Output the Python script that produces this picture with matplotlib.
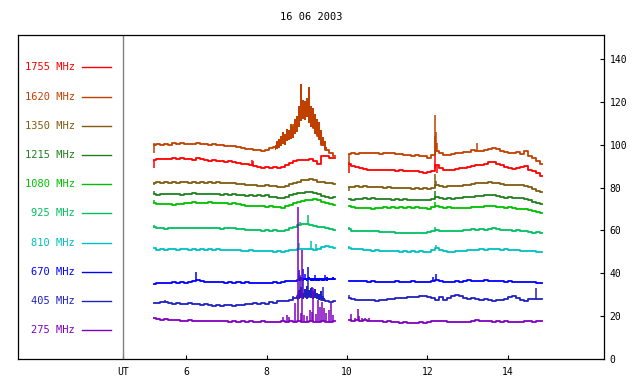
import numpy as np
import matplotlib
matplotlib.use("Agg")
import matplotlib.pyplot as plt

plt.rcParams['font.family'] = ['DejaVu Sans Mono']

# two recording sessions (UT hours), one value every 0.1 h
t_am = np.round(np.arange(5.2, 9.71, 0.1), 2)
t_pm = np.round(np.arange(10.05, 14.86, 0.1), 2)

labels = ['1755 MHz', '1620 MHz', '1350 MHz', '1215 MHz', '1080 MHz',
          '925 MHz', '810 MHz', '670 MHz', '405 MHz', '275 MHz']
colors = ['#ff0000', '#c04000', '#805c10', '#208020', '#00c000',
          '#00c060', '#00c0c0', '#0000ff', '#2020c0', '#8000c0']

# flux values (sfu), morning session
f1755_am = [93.0, 93.4, 93.1, 93.5, 93.2, 93.6, 93.4, 93.9, 93.5, 93.3,
            93.0, 93.6, 93.2, 93.0, 92.6, 92.8, 92.3, 92.5, 92.1, 92.2,
            91.8, 91.5, 91.2, 90.9, 90.5, 90.2, 89.6, 89.1, 89.4, 89.0,
            89.8, 89.3, 89.6, 90.4, 91.3, 92.2, 92.8, 93.0, 92.7, 93.1,
            92.6, 90.8, 94.6, 94.5, 93.8, 94.0]
f1620_am = [99.8, 100.2, 99.7, 100.3, 100.0, 100.6, 100.4, 100.9, 100.3, 100.5,
            100.1, 100.6, 100.2, 100.4, 99.9, 100.1, 99.7, 99.9, 99.6, 99.2,
            99.4, 98.8, 98.6, 98.2, 97.9, 97.5, 97.3, 97.0, 97.6, 98.3,
            99.0, 101.0, 102.5, 104.0, 106.5, 109.0, 113.0, 116.0, 116.0, 113.0,
            108.0, 104.0, 100.0, 97.5, 96.0, 94.8]
f1350_am = [82.2, 82.6, 82.3, 82.5, 82.1, 82.6, 82.3, 82.7, 82.4, 82.2,
            82.6, 82.3, 82.5, 82.2, 82.6, 82.3, 82.4, 82.0, 82.3, 81.9,
            82.2, 81.7, 81.5, 81.2, 81.0, 81.3, 80.9, 80.8, 81.0, 80.7,
            80.9, 80.4, 80.2, 80.8, 81.5, 82.0, 82.6, 83.3, 83.6, 84.0,
            83.4, 82.8, 82.5, 82.0, 81.9, 81.6]
f1215_am = [77.0, 76.6, 77.1, 76.8, 77.2, 76.9, 77.0, 76.7, 77.1, 76.8,
            77.3, 77.0, 77.2, 76.9, 77.1, 76.8, 77.0, 76.6, 76.9, 76.5,
            76.8, 76.4, 76.6, 76.2, 76.5, 76.1, 76.4, 76.0, 76.3, 75.8,
            75.5, 75.2, 74.9, 75.6, 76.3, 76.8, 77.3, 77.6, 77.8, 78.0,
            77.6, 76.8, 76.1, 75.8, 75.3, 75.5]
f1080_am = [73.0, 72.2, 72.5, 72.1, 72.4, 72.0, 72.5, 72.3, 72.8, 72.6,
            73.1, 72.8, 73.0, 72.7, 73.1, 72.8, 73.0, 72.6, 72.9, 72.5,
            72.7, 72.2, 72.0, 71.6, 71.3, 71.6, 71.2, 71.5, 71.1, 71.4,
            71.0, 70.8, 70.6, 71.2, 72.0, 72.7, 73.3, 73.8, 74.1, 74.4,
            74.6, 74.0, 73.2, 72.6, 72.2, 71.8]
f925_am = [61.8, 61.0, 61.2, 60.8, 61.1, 60.9, 61.2, 61.0, 61.1, 60.9,
           61.2, 61.0, 61.1, 60.9, 61.2, 61.0, 61.1, 60.8, 61.1, 60.9,
           61.0, 60.7, 60.8, 60.4, 60.3, 60.0, 60.2, 59.8, 60.0, 59.8,
           60.1, 59.8, 59.9, 60.3, 60.9, 61.6, 62.3, 63.0, 63.1, 62.7,
           62.2, 61.8, 61.5, 61.0, 60.6, 60.2]
f810_am = [51.6, 51.0, 51.2, 51.0, 51.3, 51.1, 51.0, 51.3, 51.1, 51.0,
           51.2, 51.0, 51.1, 50.9, 51.2, 51.0, 51.1, 50.9, 51.0, 50.8,
           51.0, 50.7, 50.5, 50.4, 50.7, 50.5, 50.3, 50.6, 50.2, 50.5,
           50.1, 50.3, 49.9, 50.4, 50.8, 51.0, 51.2, 51.1, 51.4, 51.2,
           51.0, 51.4, 52.2, 52.6, 52.3, 51.8]
f670_am = [35.2, 35.6, 35.4, 35.7, 35.5, 35.8, 35.6, 35.9, 35.7, 35.9,
           36.4, 37.0, 36.2, 36.0, 35.8, 36.1, 35.8, 36.0, 35.7, 35.9,
           35.6, 35.8, 35.5, 35.8, 35.6, 35.3, 35.6, 35.4, 35.7, 35.5,
           35.8, 35.6, 35.9, 36.2, 36.4, 36.6, 37.0, 37.4, 37.2, 37.4,
           37.1, 37.3, 37.0, 37.4, 37.2, 37.4]
f405_am = [26.3, 26.0, 26.4, 26.6, 26.0, 25.9, 26.2, 25.8, 25.7, 26.0,
           25.6, 25.8, 25.4, 25.6, 25.1, 24.9, 25.2, 24.9, 25.0, 25.3,
           24.9, 25.4, 25.2, 25.6, 25.9, 26.0, 25.7, 26.1, 25.8, 26.4,
           26.2, 26.9, 27.1, 27.3, 27.6, 28.3, 29.5, 30.0, 29.0, 30.5,
           30.0, 28.5, 27.5, 27.0, 26.8, 26.9]
f275_am = [19.2, 18.6, 18.4, 18.6, 18.3, 18.0, 18.1, 17.9, 17.9, 18.0,
           17.8, 17.9, 17.7, 17.9, 17.8, 17.6, 17.9, 17.7, 17.9, 17.5,
           17.8, 17.4, 17.6, 17.3, 17.6, 17.4, 17.3, 17.6, 17.4, 17.3,
           17.5, 17.4, 17.6, 17.5, 17.6, 17.4, 17.6, 17.5, 17.4, 17.6,
           17.5, 17.4, 17.6, 17.5, 17.4, 17.6]

# afternoon session
f1755_pm = [90.8, 90.2, 89.4, 88.9, 88.6, 88.4, 88.2, 88.3, 88.0, 88.2,
            88.0, 88.1, 87.9, 88.0, 87.8, 87.9, 87.5, 87.6, 87.2, 87.0,
            87.4, 87.8, 90.5, 88.9, 88.3, 88.0, 88.2, 88.5, 88.9, 89.3,
            89.6, 90.1, 90.4, 90.7, 91.2, 91.7, 92.0, 90.8, 90.3, 89.5,
            88.9, 88.7, 89.1, 89.4, 90.0, 88.4, 87.5, 86.6, 85.2]
f1620_pm = [95.5, 96.0, 95.7, 96.2, 95.9, 96.3, 96.0, 96.2, 95.8, 96.1,
            95.9, 96.0, 95.6, 95.5, 95.2, 95.3, 94.9, 95.1, 94.8, 94.5,
            93.8, 95.0, 97.0, 96.0, 95.4, 95.1, 95.6, 96.0, 96.3, 96.6,
            96.8, 97.3, 97.0, 97.2, 97.6, 97.9, 98.3, 97.8, 97.2, 96.5,
            95.9, 96.1, 96.6, 95.8, 97.0, 94.8, 93.6, 92.4, 90.8]
f1350_pm = [80.4, 80.2, 80.5, 80.3, 80.5, 80.2, 80.4, 80.1, 80.3, 80.0,
            80.2, 79.9, 79.7, 79.9, 79.6, 79.8, 79.5, 79.7, 79.5, 79.6,
            79.4, 80.0, 81.0, 80.6, 80.4, 80.7, 80.5, 80.8, 80.9, 81.2,
            81.4, 81.7, 81.9, 82.0, 82.2, 82.4, 82.3, 82.1, 81.8, 81.4,
            81.2, 81.3, 81.0, 81.2, 80.9, 80.4, 79.2, 78.6, 77.8]
f1215_pm = [74.6, 74.4, 74.8, 74.5, 74.9, 74.6, 74.9, 74.7, 74.8, 74.5,
            74.7, 74.4, 74.6, 74.3, 74.5, 74.2, 74.4, 74.1, 74.3, 74.0,
            74.1, 74.8, 75.8, 75.0, 74.8, 75.0, 74.8, 75.1, 75.0, 75.4,
            75.6, 75.8, 76.0, 76.2, 76.4, 76.6, 76.3, 76.0, 75.6, 75.3,
            75.4, 75.1, 75.3, 74.9, 74.8, 74.0, 73.2, 72.6, 72.2]
f1080_pm = [71.2, 70.8, 70.4, 70.6, 70.3, 70.5, 70.2, 70.6, 70.4, 70.7,
            70.5, 70.8, 70.6, 70.7, 70.5, 70.8, 70.6, 70.9, 70.5, 70.3,
            70.0, 70.8, 71.5, 70.9, 70.6, 70.8, 70.4, 70.5, 70.3, 70.6,
            70.5, 70.8, 70.7, 71.0, 71.3, 71.5, 71.3, 71.0, 70.8, 70.6,
            70.9, 70.5, 70.2, 70.0, 69.8, 69.4, 69.0, 68.7, 68.3]
f925_pm = [60.8, 59.9, 59.7, 59.8, 59.6, 59.7, 59.5, 59.6, 59.4, 59.3,
           59.2, 59.1, 58.9, 59.0, 58.8, 58.9, 58.8, 59.0, 58.7, 59.0,
           59.2, 59.7, 60.3, 59.9, 59.6, 59.8, 59.6, 59.8, 59.9, 60.2,
           60.0, 60.5, 60.3, 60.6, 60.4, 60.8, 60.9, 60.5, 60.3, 60.0,
           60.2, 59.9, 60.0, 59.8, 59.7, 59.2, 59.0, 59.1, 58.9]
f810_pm = [51.8, 51.3, 51.1, 51.2, 50.9, 50.8, 50.6, 50.7, 50.5, 50.6,
           50.4, 50.5, 50.2, 50.1, 50.2, 50.0, 50.2, 50.1, 50.2, 50.0,
           50.1, 50.8, 51.6, 50.9, 50.4, 50.1, 50.0, 50.3, 50.2, 50.6,
           50.8, 51.0, 50.9, 51.2, 51.0, 51.3, 51.1, 51.2, 51.0, 51.1,
           50.9, 50.8, 50.9, 50.6, 50.5, 50.4, 50.3, 50.1, 49.9]
f670_pm = [36.6, 36.3, 36.5, 36.2, 36.4, 36.1, 36.2, 35.9, 36.1, 35.9,
           36.1, 36.0, 36.2, 35.9, 36.1, 36.0, 36.3, 36.1, 36.0, 35.9,
           36.0, 36.4, 36.8, 36.2, 36.0, 36.1, 35.9, 36.3, 36.0, 36.4,
           36.7, 36.2, 36.6, 36.3, 36.8, 36.2, 36.6, 36.3, 36.5, 36.1,
           36.2, 36.0, 36.1, 35.9, 36.0, 35.8, 35.9, 35.6, 35.5]
f405_pm = [28.5, 28.0, 27.7, 27.5, 27.6, 27.5, 27.4, 27.2, 27.4, 27.5,
           28.0, 28.2, 28.5, 28.3, 28.6, 28.9, 29.1, 29.0, 29.3, 29.4,
           29.0, 28.5, 27.5, 28.8, 27.6, 28.6, 29.4, 29.9, 29.2, 28.6,
           28.0, 28.4, 27.8, 27.5, 28.2, 27.6, 27.2, 27.5, 27.6, 28.2,
           28.8, 29.3, 28.6, 27.7, 27.3, 27.8, 27.9, 28.0, 27.9]
f275_pm = [18.2, 17.9, 18.1, 17.8, 18.0, 17.7, 17.9, 17.6, 17.7, 17.5,
           17.6, 17.3, 17.2, 17.0, 17.1, 16.9, 17.0, 16.9, 17.1, 17.0,
           17.3, 17.6, 17.9, 17.7, 17.9, 17.5, 17.3, 17.5, 17.2, 17.5,
           17.4, 17.7, 18.1, 17.8, 17.6, 17.9, 17.5, 17.7, 17.5, 17.6,
           17.4, 17.5, 17.3, 17.5, 17.6, 17.8, 17.5, 17.6, 17.8]

# short spikes: time (h) and peak value
spk1755_t = [5.2, 7.63, 7.66, 10.05, 10.06, 12.2, 12.23]
spk1755_v = [89.0, 92.9, 92.5, 86.6, 92.0, 97.5, 87.0]
spk1620_t = [5.2, 5.2, 10.05, 12.18, 12.2, 12.22, 12.25, 13.25]
spk1620_v = [96.3, 101.0, 91.0, 104.0, 113.9, 106.0, 101.0, 101.0]
spk1350_t = [5.2, 10.05, 12.2, 12.22]
spk1350_v = [81.0, 78.5, 86.3, 83.0]
spk1215_t = [5.2, 12.2]
spk1215_v = [78.2, 78.5]
spk1080_t = [5.2, 12.2]
spk1080_v = [74.2, 73.4]
spk925_t = [5.2, 8.82, 9.02, 10.05, 12.2]
spk925_v = [62.5, 64.0, 67.2, 61.4, 61.7]
spk810_t = [5.2, 8.8, 9.1, 9.24, 10.05, 12.22]
spk810_v = [52.0, 54.0, 55.0, 53.7, 52.7, 53.2]
spk670_t = [6.24, 8.81, 8.9, 8.96, 9.03, 9.2, 9.45, 12.15, 12.22]
spk670_v = [40.6, 41.5, 41.8, 39.5, 42.8, 39.0, 39.0, 38.1, 39.9]
spk405_t = [5.48, 8.66, 8.83, 8.9, 9.02, 9.12, 9.2, 9.4, 10.05, 14.71]
spk405_v = [27.6, 29.5, 39.2, 37.0, 36.9, 33.7, 32.5, 33.7, 29.9, 33.0]
spk275_t = [8.4, 8.5, 8.55, 8.7, 8.78, 8.86, 8.88, 8.93, 9.0, 9.08, 9.13, 9.16,
            9.22, 9.27, 9.32, 9.37, 9.42, 9.48, 9.55, 9.6, 9.65,
            10.1, 10.2, 10.28, 10.3, 10.38, 10.45, 10.55]
spk275_v = [19.7, 20.5, 19.5, 26.0, 71.1, 21.3, 50.9, 20.5, 20.3, 22.9, 22.0, 33.0,
            21.0, 27.5, 24.4, 26.8, 23.6, 21.3, 22.9, 26.0, 20.5,
            20.8, 19.3, 23.2, 20.3, 19.3, 19.0, 19.2]

# burst envelopes (low / high) during the 8.2-9.7 h event
burst1620_t = np.round(np.arange(8.2, 9.51, 0.05), 2)
burst1620_lo = [97.5, 98.0, 98.5, 99.5, 100.5, 100.0, 101.5, 102.0, 102.5, 103.0,
                105.0, 106.0, 108.5, 111.0, 112.0, 111.5, 113.0, 110.0, 108.5, 108.0,
                105.0, 104.5, 102.0, 100.5, 99.5, 98.0, 97.0]
burst1620_hi = [100.0, 101.5, 102.5, 104.0, 106.0, 105.0, 107.5, 107.0, 109.5, 108.5,
                112.0, 113.5, 118.0, 128.5, 121.0, 120.5, 122.0, 127.0, 118.0, 117.0,
                114.5, 112.0, 110.5, 107.0, 103.5, 101.5, 99.0]
burst670_t = np.round(np.arange(8.75, 9.71, 0.05), 2)
burst670_lo = [36.2, 36.5, 36.7, 36.4, 36.7, 36.5, 36.8, 36.5, 36.6, 36.7,
               36.5, 36.6, 36.8, 36.5, 36.7, 36.6, 36.9, 36.7, 36.9, 36.8]
burst670_hi = [37.4, 37.9, 38.2, 37.7, 38.0, 37.6, 38.1, 37.8, 37.6, 38.0,
               37.7, 38.0, 37.8, 37.6, 37.9, 38.1, 37.7, 38.0, 38.1, 37.8]
burst405_t = np.round(np.arange(8.75, 9.46, 0.05), 2)
burst405_lo = [27.5, 28.0, 28.5, 28.0, 28.8, 28.2, 29.0, 28.5, 28.0, 28.5,
               28.0, 27.5, 27.8, 27.2, 27.0]
burst405_hi = [30.5, 32.0, 33.5, 31.0, 32.5, 34.0, 32.2, 33.0, 31.5, 32.8,
               31.0, 30.5, 31.8, 29.5, 28.5]

series_am = [f1755_am, f1620_am, f1350_am, f1215_am, f1080_am,
             f925_am, f810_am, f670_am, f405_am, f275_am]
series_pm = [f1755_pm, f1620_pm, f1350_pm, f1215_pm, f1080_pm,
             f925_pm, f810_pm, f670_pm, f405_pm, f275_pm]
spikes = [(spk1755_t, spk1755_v), (spk1620_t, spk1620_v), (spk1350_t, spk1350_v),
          (spk1215_t, spk1215_v), (spk1080_t, spk1080_v), (spk925_t, spk925_v),
          (spk810_t, spk810_v), (spk670_t, spk670_v), (spk405_t, spk405_v),
          (spk275_t, spk275_v)]
bursts = {1: (burst1620_t, burst1620_lo, burst1620_hi),
          7: (burst670_t, burst670_lo, burst670_hi),
          8: (burst405_t, burst405_lo, burst405_hi)}

fig = plt.figure(figsize=(6.4, 3.84), dpi=100)
ax = fig.add_axes([18/640, 25/384, 586/640, 324/384])

for i, col in enumerate(colors):
    am = np.array(series_am[i])
    pm = np.array(series_pm[i])
    ax.plot(t_am, am, color=col, lw=1.3, drawstyle='steps-mid')
    ax.plot(t_pm, pm, color=col, lw=1.3, drawstyle='steps-mid')
    if i in bursts:
        bt, lo, hi = bursts[i]
        ax.fill_between(bt, lo, hi, color=col, lw=0, step='mid')
    st = np.array(spikes[i][0])
    sv = np.array(spikes[i][1])
    base = np.where(st < 9.9, np.interp(st, t_am, am), np.interp(st, t_pm, pm))
    ax.vlines(st, base, sv, color=col, lw=1.1)

# legend column on the left
for i, (lab, col) in enumerate(zip(labels, colors)):
    yf = 0.900 - 0.0901 * i
    ax.text(0.0973, yf, lab, color=col, transform=ax.transAxes,
            ha='right', va='center', fontsize=7.5)
    ax.plot([0.1092, 0.1587], [yf, yf], color=col, lw=1, transform=ax.transAxes)

ax.axvline(4.43, color='#808080', lw=1)

ax.set_xlim(1.81, 16.40)
ax.set_ylim(0, 151.2)
ax.set_xticks([4.43, 6, 8, 10, 12, 14])
ax.set_xticklabels(['UT', '6', '8', '10', '12', '14'])
ax.set_yticks(range(0, 141, 20))
ax.yaxis.tick_right()
ax.tick_params(axis='x', direction='in', length=3, pad=6, labelsize=7, width=0.8)
ax.tick_params(axis='y', direction='in', length=3, pad=4, labelsize=7, width=0.8)
for s in ax.spines.values():
    s.set_linewidth(0.9)

fig.text(311/640, 1 - 17/384, '16 06 2003', ha='center', va='center', fontsize=7.5)

fig.savefig('out.png', dpi=100)
